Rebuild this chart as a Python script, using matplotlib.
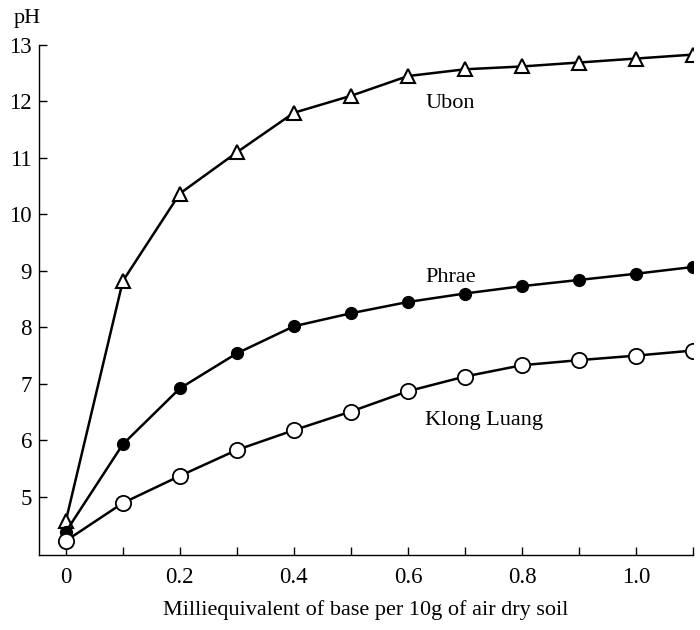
import matplotlib
matplotlib.use("Agg")
import matplotlib.pyplot as plt

# base added (meq per 10 g air dry soil)
base = [0.0, 0.1, 0.2, 0.3, 0.4, 0.5, 0.6, 0.7, 0.8, 0.9, 1.0, 1.1]

# pH readings for each soil
ubon = [4.57, 8.82, 10.37, 11.10, 11.80, 12.10, 12.45, 12.57, 12.62, 12.69, 12.76, 12.83]
phrae = [4.38, 5.93, 6.92, 7.54, 8.02, 8.25, 8.45, 8.60, 8.73, 8.84, 8.95, 9.07]
klong_luang = [4.22, 4.89, 5.37, 5.83, 6.18, 6.51, 6.87, 7.13, 7.33, 7.42, 7.50, 7.59]

series_names = ["Ubon", "Phrae", "Klong Luang"]
x_ticks = [0, 0.2, 0.4, 0.6, 0.8, 1.0]
x_ticklabels = ["0", "0.2", "0.4", "0.6", "0.8", "1.0"]
y_ticks = [5, 6, 7, 8, 9, 10, 11, 12, 13]

plt.rcParams['font.family'] = ['Liberation Serif', 'DejaVu Serif']

fig = plt.figure(figsize=(7, 6.3), dpi=100)
ax = fig.add_axes([39 / 700, 1 - 555 / 630, 654 / 700, 510 / 630])

ax.plot(base, ubon, color='black', lw=1.8, marker='^', ms=10,
        mfc='white', mec='black', mew=1.5)
ax.plot(base, phrae, color='black', lw=1.8, marker='o', ms=8.5,
        mfc='black', mec='black')
ax.plot(base, klong_luang, color='black', lw=1.8, marker='o', ms=11,
        mfc='white', mec='black', mew=1.3)

# curve labels
ax.text(0.63, 11.97, series_names[0], fontsize=16, va='center')
ax.text(0.63, 8.89, series_names[1], fontsize=16, va='center')
ax.text(0.63, 6.35, series_names[2], fontsize=16, va='center')

ax.set_xlim(-0.047, 1.1)
ax.set_ylim(3.97, 13)

for side in ['top', 'right']:
    ax.spines[side].set_visible(False)
for side in ['left', 'bottom']:
    ax.spines[side].set_linewidth(1.0)

ax.set_xticks(x_ticks)
ax.set_xticklabels(x_ticklabels)
ax.set_xticks([0.1, 0.3, 0.5, 0.7, 0.9, 1.1], minor=True)
ax.set_yticks(y_ticks)
ax.tick_params(axis='both', which='both', direction='in', labelsize=16.5,
               length=6, width=1.0)
ax.tick_params(axis='x', pad=8.5)
ax.tick_params(axis='y', pad=5)

ax.set_xlabel("Milliequivalent of base per 10g of air dry soil", fontsize=16,
              labelpad=9)
fig.text(27 / 700, 1 - 18 / 630, "pH", fontsize=16, ha='center', va='center')

fig.savefig("out.png", dpi=100)
